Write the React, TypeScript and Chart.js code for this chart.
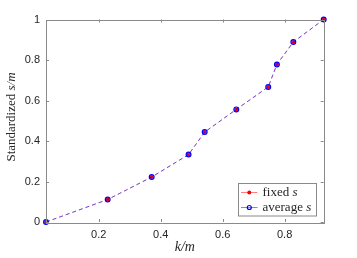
import React, { useEffect, useRef } from "react";
import { Chart, registerables } from "chart.js";

Chart.register(...registerables);

const kOverM = [0.03, 0.229, 0.371, 0.49, 0.542, 0.644, 0.747, 0.775, 0.828, 0.926];
const fixedS = [0, 0.111, 0.222, 0.333, 0.444, 0.556, 0.667, 0.778, 0.889, 1];
const averageS = [0, 0.111, 0.222, 0.333, 0.444, 0.556, 0.667, 0.778, 0.889, 1];
const xTicks = [0.2, 0.4, 0.6, 0.8];
const yTicks = [0, 0.2, 0.4, 0.6, 0.8, 1];
const legendLabels = ["fixed ", "average "];

const AXIS = "#8a8a8a";
const SERIF = "'Liberation Serif', 'DejaVu Serif', serif";

export default function App() {
  const ref = useRef<HTMLCanvasElement | null>(null);

  useEffect(() => {
    if (!ref.current) return;
    const decor = {
      id: "decor",
      afterDraw(chart: any) {
        const { ctx, chartArea: a, scales } = chart;
        const xs = scales.x;
        const ys = scales.y;
        ctx.save();
        ctx.strokeStyle = AXIS;
        ctx.lineWidth = 1;
        // box
        ctx.strokeRect(Math.round(a.left) + 0.5, Math.round(a.top) + 0.5, Math.round(a.right - a.left), Math.round(a.bottom - a.top));
        // inward ticks
        const tl = 3;
        ctx.beginPath();
        xTicks.forEach((t) => {
          const px = Math.round(xs.getPixelForValue(t)) + 0.5;
          ctx.moveTo(px, a.bottom);
          ctx.lineTo(px, a.bottom - tl);
          ctx.moveTo(px, a.top);
          ctx.lineTo(px, a.top + tl);
        });
        yTicks.forEach((t) => {
          const py = Math.round(ys.getPixelForValue(t)) + 0.5;
          ctx.moveTo(a.left, py);
          ctx.lineTo(a.left + tl, py);
          ctx.moveTo(a.right, py);
          ctx.lineTo(a.right - tl, py);
        });
        ctx.stroke();

        // axis titles
        ctx.fillStyle = "#262626";
        ctx.textBaseline = "middle";
        const cx = (a.left + a.right) / 2;
        ctx.font = `italic 14px ${SERIF}`;
        ctx.textAlign = "center";
        ctx.fillText("k/m", cx, 247);

        ctx.save();
        ctx.translate(12, 117);
        ctx.rotate(-Math.PI / 2);
        ctx.font = `13px ${SERIF}`;
        const p1 = "Standardized ";
        const w1 = ctx.measureText(p1).width;
        ctx.font = `italic 13px ${SERIF}`;
        const p2 = "s/m";
        const w2 = ctx.measureText(p2).width;
        const start = -(w1 + w2) / 2;
        ctx.textAlign = "left";
        ctx.font = `13px ${SERIF}`;
        ctx.fillText(p1, start, 0);
        ctx.font = `italic 13px ${SERIF}`;
        ctx.fillText(p2, start + w1, 0);
        ctx.restore();

        // legend
        const lx = 238.5, ly = 183.5, lw = 78, lh = 32.5;
        ctx.fillStyle = "#ffffff";
        ctx.fillRect(lx, ly, lw, lh);
        ctx.strokeStyle = AXIS;
        ctx.lineWidth = 1;
        ctx.strokeRect(lx, ly, lw, lh);
        const rows = [
          { y: 192.5, line: "rgba(255,0,0,0.5)", fill: "#ff0000", stroke: null as string | null },
          { y: 207.5, line: "rgba(0,0,255,0.5)", fill: null as string | null, stroke: "#0000ff" },
        ];
        rows.forEach((r, i) => {
          ctx.strokeStyle = r.line;
          ctx.lineWidth = 1;
          ctx.beginPath();
          ctx.moveTo(241, r.y);
          ctx.lineTo(257.5, r.y);
          ctx.stroke();
          ctx.beginPath();
          ctx.arc(249.3, r.y, 2, 0, Math.PI * 2);
          if (r.fill) {
            ctx.fillStyle = r.fill;
            ctx.fill();
          }
          if (r.stroke) {
            ctx.strokeStyle = r.stroke;
            ctx.lineWidth = 1.2;
            ctx.stroke();
          }
          ctx.fillStyle = "#262626";
          ctx.textAlign = "left";
          ctx.font = `13px ${SERIF}`;
          const t = legendLabels[i];
          ctx.fillText(t, 262.5, r.y);
          const tw = ctx.measureText(t).width;
          ctx.font = `italic 13px ${SERIF}`;
          ctx.fillText("s", 262.5 + tw, r.y);
        });
        ctx.restore();
      },
    };

    const chart = new Chart(ref.current, {
      type: "line",
      data: {
        datasets: [
          {
            label: "average s",
            data: kOverM.map((x, i) => ({ x, y: averageS[i] })),
            borderColor: "rgba(0,0,255,0.55)",
            borderWidth: 1,
            borderDash: [4, 3],
            pointRadius: 2.4,
            pointBackgroundColor: "rgba(0,0,0,0)",
            pointBorderColor: "#0000ff",
            pointBorderWidth: 1.2,
            clip: false as any,
            tension: 0,
          },
          {
            label: "fixed s",
            data: kOverM.map((x, i) => ({ x, y: fixedS[i] })),
            borderColor: "rgba(255,0,0,0.4)",
            borderWidth: 1,
            borderDash: [4, 3],
            pointRadius: 2,
            pointBackgroundColor: "#ff0000",
            pointBorderColor: "#ff0000",
            pointBorderWidth: 0,
            clip: false as any,
            tension: 0,
          },
        ],
      },
      options: {
        animation: false,
        responsive: false,
        layout: { padding: { top: 19.5, right: 33.3, left: 0, bottom: 0 } },
        plugins: { legend: { display: false }, tooltip: { enabled: false } },
        scales: {
          x: {
            type: "linear",
            min: 0.03,
            max: 0.926,
            grid: { display: false, tickLength: 0 },
            border: { display: false },
            afterBuildTicks: (s: any) => {
              s.ticks = xTicks.map((v) => ({ value: v }));
            },
            afterFit: (s: any) => {
              s.height = 36;
            },
            ticks: {
              color: "#262626",
              font: { family: "'Liberation Sans', Arial, sans-serif", size: 11 },
              padding: 6,
              maxRotation: 0,
              callback: (v: any) => String(Number(v)),
            },
          },
          y: {
            type: "linear",
            min: 0,
            max: 1,
            grid: { display: false, tickLength: 0 },
            border: { display: false },
            afterBuildTicks: (s: any) => {
              s.ticks = yTicks.map((v) => ({ value: v }));
            },
            afterFit: (s: any) => {
              s.width = 46;
            },
            ticks: {
              color: "#262626",
              font: { family: "'Liberation Sans', Arial, sans-serif", size: 11 },
              padding: 6,
              callback: (v: any) => String(Number(v)),
            },
          },
        },
      },
      plugins: [decor],
    });
    return () => chart.destroy();
  }, []);

  return (
    <div style={{ position: "absolute", left: 0, top: 0, width: 357, height: 258, background: "#fff" }}>
      <canvas ref={ref} width={357} height={258} />
    </div>
  );
}
